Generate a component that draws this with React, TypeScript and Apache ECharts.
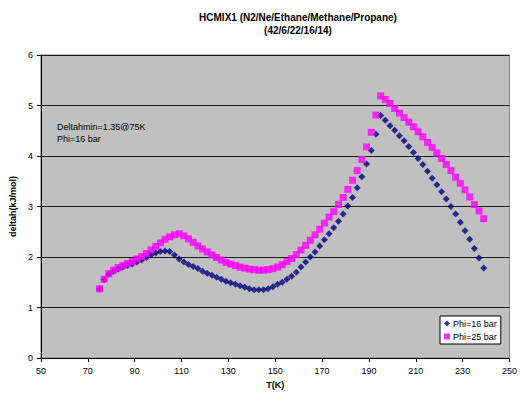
import React, { useEffect, useRef } from "react";
import * as echarts from "echarts";

const temperatures = [
  75, 77, 79, 81, 83, 85, 87, 89, 91, 93, 95, 97, 99, 101, 103, 105, 107, 109, 111, 113,
  115, 117, 119, 121, 123, 125, 127, 129, 131, 133, 135, 137, 139, 141, 143, 145, 147, 149, 151, 153,
  155, 157, 159, 161, 163, 165, 167, 169, 171, 173, 175, 177, 179, 181, 183, 185, 187, 189, 191, 193,
  195, 197, 199, 201, 203, 205, 207, 209, 211, 213, 215, 217, 219, 221, 223, 225, 227, 229, 231, 233,
  235, 237, 239,
];

const phi16 = [
  1.37, 1.55, 1.66, 1.72, 1.76, 1.8, 1.83, 1.86, 1.9, 1.94, 1.99, 2.04, 2.08, 2.11, 2.12, 2.11, 2.04, 1.96, 1.9, 1.85,
  1.81, 1.77, 1.72, 1.68, 1.64, 1.6, 1.56, 1.52, 1.49, 1.46, 1.43, 1.4, 1.37, 1.35, 1.35, 1.35, 1.37, 1.41, 1.46, 1.5,
  1.56, 1.62, 1.7, 1.8, 1.9, 2.0, 2.1, 2.22, 2.34, 2.46, 2.58, 2.71, 2.85, 3.01, 3.18, 3.37, 3.59, 3.84, 4.11, 4.43,
  4.8, 4.71, 4.6, 4.51, 4.4, 4.3, 4.19, 4.07, 3.95, 3.83, 3.7, 3.56, 3.43, 3.29, 3.15, 3.0, 2.85, 2.69, 2.52, 2.35,
  2.17, 1.98, 1.78,
];

const phi25 = [
  1.37, 1.56, 1.67, 1.74, 1.79, 1.83, 1.87, 1.91, 1.96, 2.01, 2.07, 2.14, 2.21, 2.28, 2.35, 2.4, 2.44, 2.46, 2.42, 2.36,
  2.29, 2.22, 2.16, 2.1, 2.04, 1.99, 1.94, 1.89, 1.86, 1.83, 1.8, 1.78, 1.76, 1.75, 1.74, 1.74, 1.75, 1.77, 1.8, 1.85,
  1.91, 1.97, 2.05, 2.14, 2.23, 2.33, 2.44, 2.55, 2.67, 2.79, 2.9, 3.04, 3.18, 3.34, 3.52, 3.71, 3.93, 4.18, 4.47, 4.81,
  5.19, 5.12, 5.04, 4.94, 4.85, 4.76, 4.67, 4.58, 4.48, 4.38, 4.27, 4.17, 4.06, 3.95, 3.83, 3.71, 3.58, 3.46, 3.33, 3.19,
  3.04, 2.91, 2.76,
];

const titleLines = ["HCMIX1 (N2/Ne/Ethane/Methane/Propane)", "(42/6/22/16/14)"];
const annotationLines = ["Deltahmin=1.35@75K", "Phi=16 bar"];
const seriesNames = ["Phi=16 bar", "Phi=25 bar"];

const FONT = "'Liberation Sans', Arial, sans-serif";

export default function App() {
  const ref = useRef<HTMLDivElement>(null);

  useEffect(() => {
    if (!ref.current) return;
    const chart = echarts.init(ref.current, undefined, { renderer: "svg" });
    const d16 = temperatures.map((t, i) => [t, phi16[i]]);
    const d25 = temperatures.map((t, i) => [t, phi25[i]]);
    chart.setOption({
      animation: false,
      backgroundColor: "#ffffff",
      textStyle: { fontFamily: FONT },
      title: {
        text: titleLines.join("\n"),
        left: 293,
        top: 6,
        textAlign: "center",
        textStyle: { fontSize: 10, fontWeight: "bold", color: "#000", lineHeight: 13, fontFamily: FONT },
      },
      grid: {
        left: 36,
        right: 6,
        top: 55,
        bottom: 37,
        show: true,
        backgroundColor: "#c0c0c0",
        borderColor: "#808080",
        borderWidth: 1,
      },
      legend: {
        orient: "vertical",
        left: 440,
        top: 316,
        backgroundColor: "#ffffff",
        borderColor: "#000",
        borderWidth: 1,
        borderRadius: 0,
        padding: [3, 4, 3, 4],
        itemGap: 4,
        itemWidth: 6,
        itemHeight: 6,
        textStyle: { fontSize: 9, color: "#000", fontFamily: FONT, padding: [0, 0, 0, -2] },
        data: [
          { name: seriesNames[0], icon: "diamond" },
          { name: seriesNames[1], icon: "rect" },
        ],
      },
      xAxis: {
        type: "value",
        min: 50,
        max: 250,
        interval: 20,
        name: "T(K)",
        nameLocation: "middle",
        nameGap: 22,
        nameTextStyle: { fontSize: 9, fontWeight: "bold", color: "#000", fontFamily: FONT },
        axisLine: { show: true, lineStyle: { color: "#000", width: 1 } },
        axisTick: { show: true, length: 4, lineStyle: { color: "#000" } },
        axisLabel: { fontSize: 9, color: "#000", margin: 8, fontFamily: FONT },
        splitLine: { show: false },
      },
      yAxis: {
        type: "value",
        min: 0,
        max: 6,
        interval: 1,
        name: "deltah(kJ/mol)",
        nameLocation: "middle",
        nameGap: 19,
        nameRotate: 90,
        nameTextStyle: { fontSize: 9, fontWeight: "bold", color: "#000", fontFamily: FONT },
        axisLine: { show: true, lineStyle: { color: "#000", width: 1 } },
        axisTick: { show: true, length: 4, lineStyle: { color: "#000" } },
        axisLabel: { fontSize: 9, color: "#000", margin: 8, fontFamily: FONT },
        splitLine: { show: true, lineStyle: { color: "#1a1a1a", width: 1.2 } },
      },
      graphic: [
        {
          type: "text",
          left: 57,
          top: 121,
          style: {
            text: annotationLines.join("\n"),
            fontSize: 9,
            lineHeight: 12,
            fill: "#000",
            fontFamily: FONT,
          },
        },
      ],
      series: [
        {
          name: seriesNames[0],
          type: "scatter",
          symbol: "diamond",
          symbolSize: 7,
          itemStyle: { color: "#000080" },
          data: d16,
          z: 2,
        },
        {
          name: seriesNames[1],
          type: "scatter",
          symbol: "rect",
          symbolSize: 7,
          itemStyle: { color: "#ff00ff" },
          data: d25,
          z: 3,
        },
      ],
    });
    return () => chart.dispose();
  }, []);

  return (
    <div
      ref={ref}
      style={{ position: "fixed", left: 0, top: 0, width: 520, height: 395 }}
    />
  );
}
